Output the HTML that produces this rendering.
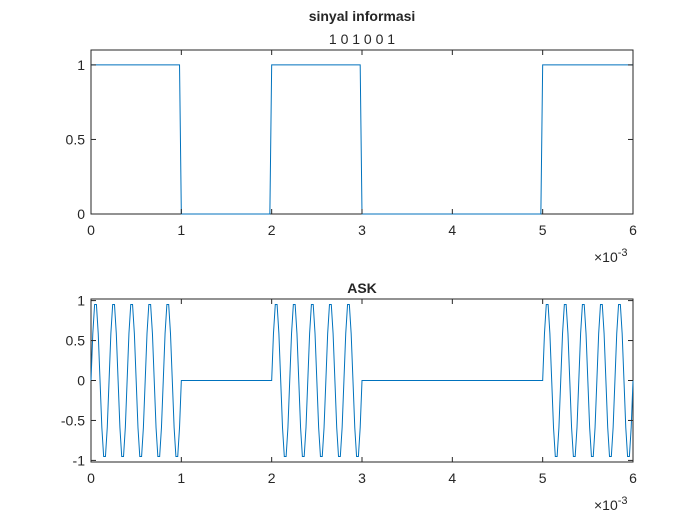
<!DOCTYPE html>
<html><head><meta charset="utf-8"><style>
body{margin:0;background:#fff}
text{font-family:"Liberation Sans",Arial,sans-serif;fill:#262626}
</style></head><body>
<svg id="fig" width="700" height="525" viewBox="0 0 700 525" xmlns="http://www.w3.org/2000/svg">
<rect width="700" height="525" fill="#fff"/>
<g id="ax1"></g>
<g id="ax2"></g>
</svg>
<script>
const bits = [1, 0, 1, 0, 0, 1];
const bitDuration = 0.001;
const carrierCycles = 5;
const samplesPerBit = 50;
const xTicks = [0, 1, 2, 3, 4, 5, 6];
const y1Ticks = [0, 0.5, 1];
const y2Ticks = [-1, -0.5, 0, 0.5, 1];
const xTickLabels = ["0","1","2","3","4","5","6"];

const NS = "http://www.w3.org/2000/svg";
function mk(tag, attrs, parent){const e=document.createElementNS(NS,tag);for(const k in attrs)e.setAttribute(k,attrs[k]);parent.appendChild(e);return e;}

const tArr=[], info=[], ask=[];
const N = bits.length*samplesPerBit;
for(let i=0;i<=N;i++){
  const t=i*bitDuration/samplesPerBit;
  const b=bits[Math.min(Math.floor(i/samplesPerBit),bits.length-1)];
  tArr.push(t); info.push(b);
  ask.push(b*Math.sin(2*Math.PI*carrierCycles*t/bitDuration));
}

function drawAxes(g, box, ylim, yTicks, yLabels, title, subtitle, ys){
  const X=v=>box.x0+(v-0)/(0.006)*(box.x1-box.x0);
  const Y=v=>box.y1-(v-ylim[0])/(ylim[1]-ylim[0])*(box.y1-box.y0);
  let r=mk('rect',{x:box.x0,y:box.y0,width:box.x1-box.x0,height:box.y1-box.y0,fill:'#fff',stroke:'none'},g);
  
  
  let d='';
  tArr.forEach((t,i)=>{d+=(i?'L':'M')+X(t).toFixed(2)+','+Y(ys[i]).toFixed(2);});
  mk('rect',{x:box.x0,y:box.y0,width:box.x1-box.x0,height:box.y1-box.y0,fill:'none',stroke:'#262626','stroke-width':1},g);
  let p=mk('path',{d:d,fill:'none',stroke:'#0072bd','stroke-width':1},g);
  
  
  xTicks.forEach((v,i)=>{
    const x=X(v*1e-3);
    mk('line',{x1:x,x2:x,y1:box.y1,y2:box.y1-5,stroke:'#262626'},g);
    mk('line',{x1:x,x2:x,y1:box.y0,y2:box.y0+5,stroke:'#262626'},g);
    const tx=mk('text',{x:x,y:box.y1+21,'text-anchor':'middle','font-size':14},g);
    tx.textContent=xTickLabels[i];
    
    
  });
  yTicks.forEach((v,i)=>{
    const y=Y(v);
    mk('line',{x1:box.x0,x2:box.x0+5,y1:y,y2:y,stroke:'#262626'},g);
    mk('line',{x1:box.x1,x2:box.x1-5,y1:y,y2:y,stroke:'#262626'},g);
    const tx=mk('text',{x:box.x0-6,y:y+5,'text-anchor':'end','font-size':14},g);
    tx.textContent=yLabels[i];
    
    
  });
  const ex=mk('text',{x:box.x1-39,y:box.y1+48,'font-size':14},g);
  ex.innerHTML='×10<tspan dy="-6" font-size="11">-3</tspan>';
  
  
  const c=(box.x0+box.x1)/2;
  const tt=mk('text',{x:c,y:subtitle?box.y0-29:box.y0-6,'text-anchor':'middle','font-size':14,'font-weight':'bold'},g);
  tt.textContent=title;
  
  
  if(subtitle){
    const st=mk('text',{x:c,y:box.y0-6,'text-anchor':'middle','font-size':14},g);
    st.textContent=subtitle;
    
    
  }
}
drawAxes(document.getElementById('ax1'),{x0:91,x1:633,y0:50,y1:214},[0,1.1],y1Ticks,["0","0.5","1"],"sinyal informasi",bits.join(" "),info);
drawAxes(document.getElementById('ax2'),{x0:91,x1:633,y0:299,y1:462},[-1.02,1.02],y2Ticks,["-1","-0.5","0","0.5","1"],"ASK",null,ask);
</script>
</body></html>
